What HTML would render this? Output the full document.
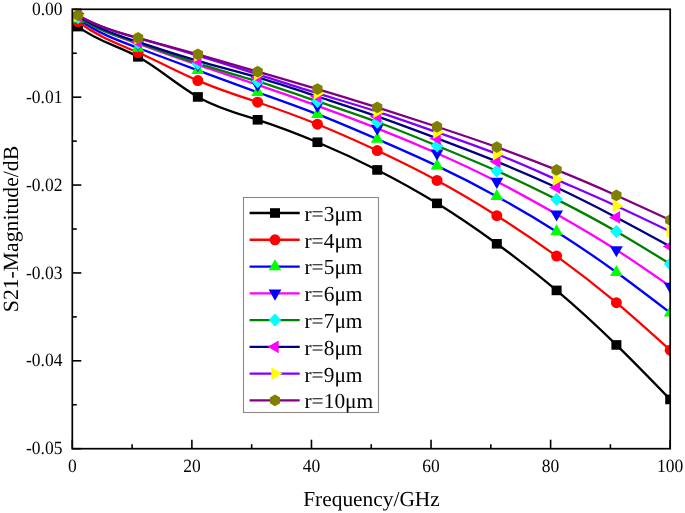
<!DOCTYPE html>
<html><head><meta charset="utf-8"><style>
html,body{margin:0;padding:0;background:#fff;width:685px;height:513px;overflow:hidden}
svg{display:block;font-family:"Liberation Serif",serif;text-rendering:geometricPrecision;will-change:transform}
</style></head><body>
<svg width="685" height="513" viewBox="0 0 685 513" font-family="Liberation Serif, serif" fill="#000">
<defs><clipPath id="c"><rect x="72.3" y="9.3" width="597.90" height="439.40"/></clipPath></defs>
<rect width="685" height="513" fill="#fff"/>
<g clip-path="url(#c)">
<path d="M77.98,26.59C98.01,41.71 118.04,45.84 138.07,56.84C158.00,67.78 177.93,85.53 197.86,96.94C217.79,108.35 237.72,113.44 257.65,119.80C277.58,126.17 297.51,133.81 317.44,142.23C337.37,150.65 357.30,159.84 377.23,169.93C397.16,180.03 417.09,191.03 437.02,203.35C456.95,215.67 476.88,229.31 496.81,243.80C516.74,258.29 536.67,273.61 556.60,290.41C576.53,307.20 596.46,325.46 616.39,344.93C634.33,362.45 652.26,380.95 670.20,399.45" fill="none" stroke="#000000" stroke-width="2.3" stroke-linejoin="round"/>
<rect x="72.98" y="21.79" width="10" height="9.6" fill="#000000"/>
<rect x="133.07" y="52.04" width="10" height="9.6" fill="#000000"/>
<rect x="192.86" y="92.14" width="10" height="9.6" fill="#000000"/>
<rect x="252.65" y="115.00" width="10" height="9.6" fill="#000000"/>
<rect x="312.44" y="137.43" width="10" height="9.6" fill="#000000"/>
<rect x="372.23" y="165.13" width="10" height="9.6" fill="#000000"/>
<rect x="432.02" y="198.55" width="10" height="9.6" fill="#000000"/>
<rect x="491.81" y="239.00" width="10" height="9.6" fill="#000000"/>
<rect x="551.60" y="285.61" width="10" height="9.6" fill="#000000"/>
<rect x="611.39" y="340.13" width="10" height="9.6" fill="#000000"/>
<rect x="665.20" y="394.65" width="10" height="9.6" fill="#000000"/>
<path d="M77.98,21.49C98.01,37.01 118.04,43.75 138.07,52.53C158.00,61.27 177.93,72.03 197.86,80.58C217.79,89.13 237.72,95.46 257.65,102.22C277.58,108.97 297.51,116.14 317.44,124.20C337.37,132.27 357.30,141.22 377.23,150.58C397.16,159.94 417.09,169.71 437.02,180.48C456.95,191.26 476.88,203.05 496.81,215.66C516.74,228.27 536.67,241.69 556.60,256.11C576.53,270.53 596.46,285.95 616.39,302.72C634.33,317.82 652.26,334.01 670.20,350.21" fill="none" stroke="#FF0000" stroke-width="2.3" stroke-linejoin="round"/>
<circle cx="77.98" cy="21.49" r="5.5" fill="#FF0000"/>
<circle cx="138.07" cy="52.53" r="5.5" fill="#FF0000"/>
<circle cx="197.86" cy="80.58" r="5.5" fill="#FF0000"/>
<circle cx="257.65" cy="102.22" r="5.5" fill="#FF0000"/>
<circle cx="317.44" cy="124.20" r="5.5" fill="#FF0000"/>
<circle cx="377.23" cy="150.58" r="5.5" fill="#FF0000"/>
<circle cx="437.02" cy="180.48" r="5.5" fill="#FF0000"/>
<circle cx="496.81" cy="215.66" r="5.5" fill="#FF0000"/>
<circle cx="556.60" cy="256.11" r="5.5" fill="#FF0000"/>
<circle cx="616.39" cy="302.72" r="5.5" fill="#FF0000"/>
<circle cx="670.20" cy="350.21" r="5.5" fill="#FF0000"/>
<path d="M77.98,18.76C98.01,33.36 118.04,40.55 138.07,47.96C158.00,55.33 177.93,62.93 197.86,70.38C217.79,77.83 237.72,85.14 257.65,92.28C277.58,99.42 297.51,106.40 317.44,114.18C337.37,121.95 357.30,130.52 377.23,139.15C397.16,147.78 417.09,156.46 437.02,165.88C456.95,175.31 476.88,185.47 496.81,196.40C516.74,207.33 536.67,219.04 556.60,231.66C576.53,244.29 596.46,257.83 616.39,272.29C634.33,285.31 652.26,299.07 670.20,312.83" fill="none" stroke="#0000FF" stroke-width="2.3" stroke-linejoin="round"/>
<polygon points="77.98,11.36 84.38,22.46 71.58,22.46" fill="#00FF00"/>
<polygon points="138.07,40.56 144.47,51.66 131.67,51.66" fill="#00FF00"/>
<polygon points="197.86,62.98 204.26,74.08 191.46,74.08" fill="#00FF00"/>
<polygon points="257.65,84.88 264.05,95.98 251.25,95.98" fill="#00FF00"/>
<polygon points="317.44,106.78 323.84,117.88 311.04,117.88" fill="#00FF00"/>
<polygon points="377.23,131.75 383.63,142.85 370.83,142.85" fill="#00FF00"/>
<polygon points="437.02,158.48 443.42,169.58 430.62,169.58" fill="#00FF00"/>
<polygon points="496.81,189.00 503.21,200.10 490.41,200.10" fill="#00FF00"/>
<polygon points="556.60,224.26 563.00,235.36 550.20,235.36" fill="#00FF00"/>
<polygon points="616.39,264.89 622.79,275.99 609.99,275.99" fill="#00FF00"/>
<polygon points="670.20,305.43 676.60,316.53 663.80,316.53" fill="#00FF00"/>
<path d="M77.98,16.83C98.01,30.28 118.04,36.80 138.07,43.74C158.00,50.64 177.93,57.96 197.86,64.84C217.79,71.72 237.72,78.17 257.65,84.89C277.58,91.61 297.51,98.61 317.44,105.82C337.37,113.03 357.30,120.46 377.23,128.33C397.16,136.21 417.09,144.52 437.02,153.31C456.95,162.10 476.88,171.36 496.81,181.54C516.74,191.72 536.67,202.82 556.60,214.16C576.53,225.50 596.46,237.08 616.39,249.87C634.33,261.38 652.26,273.87 670.20,286.36" fill="none" stroke="#FF00FF" stroke-width="2.3" stroke-linejoin="round"/>
<polygon points="77.98,24.23 84.38,13.13 71.58,13.13" fill="#0000FF"/>
<polygon points="138.07,51.14 144.47,40.04 131.67,40.04" fill="#0000FF"/>
<polygon points="197.86,72.24 204.26,61.14 191.46,61.14" fill="#0000FF"/>
<polygon points="257.65,92.29 264.05,81.19 251.25,81.19" fill="#0000FF"/>
<polygon points="317.44,113.22 323.84,102.12 311.04,102.12" fill="#0000FF"/>
<polygon points="377.23,135.73 383.63,124.63 370.83,124.63" fill="#0000FF"/>
<polygon points="437.02,160.71 443.42,149.61 430.62,149.61" fill="#0000FF"/>
<polygon points="496.81,188.94 503.21,177.84 490.41,177.84" fill="#0000FF"/>
<polygon points="556.60,221.56 563.00,210.46 550.20,210.46" fill="#0000FF"/>
<polygon points="616.39,257.27 622.79,246.17 609.99,246.17" fill="#0000FF"/>
<polygon points="670.20,293.76 676.60,282.66 663.80,282.66" fill="#0000FF"/>
<path d="M77.98,17.44C98.01,30.24 118.04,36.31 138.07,43.03C158.00,49.72 177.93,57.05 197.86,63.43C217.79,69.82 237.72,75.27 257.65,81.46C277.58,87.66 297.51,94.59 317.44,101.34C337.37,108.08 357.30,114.63 377.23,122.00C397.16,129.38 417.09,137.58 437.02,145.75C456.95,153.91 476.88,162.04 496.81,170.90C516.74,179.75 536.67,189.33 556.60,199.39C576.53,209.45 596.46,220.00 616.39,231.49C634.33,241.83 652.26,252.93 670.20,264.03" fill="none" stroke="#008000" stroke-width="2.3" stroke-linejoin="round"/>
<polygon points="77.98,10.74 84.28,17.44 77.98,24.14 71.68,17.44" fill="#00FFFF"/>
<polygon points="138.07,36.33 144.37,43.03 138.07,49.73 131.77,43.03" fill="#00FFFF"/>
<polygon points="197.86,56.73 204.16,63.43 197.86,70.13 191.56,63.43" fill="#00FFFF"/>
<polygon points="257.65,74.76 263.95,81.46 257.65,88.16 251.35,81.46" fill="#00FFFF"/>
<polygon points="317.44,94.64 323.74,101.34 317.44,108.04 311.14,101.34" fill="#00FFFF"/>
<polygon points="377.23,115.30 383.53,122.00 377.23,128.70 370.93,122.00" fill="#00FFFF"/>
<polygon points="437.02,139.05 443.32,145.75 437.02,152.45 430.72,145.75" fill="#00FFFF"/>
<polygon points="496.81,164.20 503.11,170.90 496.81,177.60 490.51,170.90" fill="#00FFFF"/>
<polygon points="556.60,192.69 562.90,199.39 556.60,206.09 550.30,199.39" fill="#00FFFF"/>
<polygon points="616.39,224.79 622.69,231.49 616.39,238.19 610.09,231.49" fill="#00FFFF"/>
<polygon points="670.20,257.33 676.50,264.03 670.20,270.73 663.90,264.03" fill="#00FFFF"/>
<path d="M77.98,15.68C98.01,28.83 118.04,35.39 138.07,41.98C158.00,48.53 177.93,55.12 197.86,60.88C217.79,66.65 237.72,71.60 257.65,77.42C277.58,83.24 297.51,89.94 317.44,96.50C337.37,103.07 357.30,109.50 377.23,116.46C397.16,123.43 417.09,130.92 437.02,138.45C456.95,145.97 476.88,153.52 496.81,161.58C516.74,169.63 536.67,178.20 556.60,187.52C576.53,196.84 596.46,206.92 616.39,217.42C634.33,226.87 652.26,236.65 670.20,246.44" fill="none" stroke="#000080" stroke-width="2.3" stroke-linejoin="round"/>
<polygon points="70.58,15.68 81.68,9.28 81.68,22.08" fill="#FF00FF"/>
<polygon points="130.67,41.98 141.77,35.58 141.77,48.38" fill="#FF00FF"/>
<polygon points="190.46,60.88 201.56,54.48 201.56,67.28" fill="#FF00FF"/>
<polygon points="250.25,77.42 261.35,71.02 261.35,83.82" fill="#FF00FF"/>
<polygon points="310.04,96.50 321.14,90.10 321.14,102.90" fill="#FF00FF"/>
<polygon points="369.83,116.46 380.93,110.06 380.93,122.86" fill="#FF00FF"/>
<polygon points="429.62,138.45 440.72,132.05 440.72,144.85" fill="#FF00FF"/>
<polygon points="489.41,161.58 500.51,155.18 500.51,167.98" fill="#FF00FF"/>
<polygon points="549.20,187.52 560.30,181.12 560.30,193.92" fill="#FF00FF"/>
<polygon points="608.99,217.42 620.09,211.02 620.09,223.82" fill="#FF00FF"/>
<polygon points="662.80,246.44 673.90,240.04 673.90,252.84" fill="#FF00FF"/>
<path d="M77.98,15.51C98.01,26.85 118.04,32.50 138.07,38.20C158.00,43.87 177.93,49.59 197.86,55.61C217.79,61.63 237.72,67.94 257.65,74.34C277.58,80.74 297.51,87.23 317.44,93.33C337.37,99.44 357.30,105.17 377.23,111.63C397.16,118.09 417.09,125.28 437.02,132.29C456.95,139.30 476.88,146.12 496.81,154.01C516.74,161.90 536.67,170.86 556.60,179.60C576.53,188.35 596.46,196.88 616.39,205.99C634.33,214.18 652.26,222.83 670.20,231.49" fill="none" stroke="#8000FF" stroke-width="2.3" stroke-linejoin="round"/>
<polygon points="85.38,15.51 74.28,9.11 74.28,21.91" fill="#FFFF00"/>
<polygon points="145.47,38.20 134.37,31.80 134.37,44.60" fill="#FFFF00"/>
<polygon points="205.26,55.61 194.16,49.21 194.16,62.01" fill="#FFFF00"/>
<polygon points="265.05,74.34 253.95,67.94 253.95,80.74" fill="#FFFF00"/>
<polygon points="324.84,93.33 313.74,86.93 313.74,99.73" fill="#FFFF00"/>
<polygon points="384.63,111.63 373.53,105.23 373.53,118.03" fill="#FFFF00"/>
<polygon points="444.42,132.29 433.32,125.89 433.32,138.69" fill="#FFFF00"/>
<polygon points="504.21,154.01 493.11,147.61 493.11,160.41" fill="#FFFF00"/>
<polygon points="564.00,179.60 552.90,173.20 552.90,186.00" fill="#FFFF00"/>
<polygon points="623.79,205.99 612.69,199.59 612.69,212.39" fill="#FFFF00"/>
<polygon points="677.60,231.49 666.50,225.09 666.50,237.89" fill="#FFFF00"/>
<path d="M77.98,15.16C98.01,26.54 118.04,32.39 138.07,37.93C158.00,43.45 177.93,48.68 197.86,54.29C217.79,59.90 237.72,65.89 257.65,71.70C277.58,77.51 297.51,83.13 317.44,89.03C337.37,94.92 357.30,101.09 377.23,107.40C397.16,113.72 417.09,120.18 437.02,126.75C456.95,133.33 476.88,140.02 496.81,147.15C516.74,154.29 536.67,161.87 556.60,169.93C576.53,177.99 596.46,186.53 616.39,195.43C634.33,203.44 652.26,211.75 670.20,220.06" fill="none" stroke="#800080" stroke-width="2.3" stroke-linejoin="round"/>
<polygon points="77.98,9.26 83.09,12.21 83.09,18.11 77.98,21.06 72.87,18.11 72.87,12.21" fill="#808000"/>
<polygon points="138.07,32.03 143.18,34.98 143.18,40.88 138.07,43.83 132.96,40.88 132.96,34.98" fill="#808000"/>
<polygon points="197.86,48.39 202.97,51.34 202.97,57.24 197.86,60.19 192.75,57.24 192.75,51.34" fill="#808000"/>
<polygon points="257.65,65.80 262.76,68.75 262.76,74.65 257.65,77.60 252.54,74.65 252.54,68.75" fill="#808000"/>
<polygon points="317.44,83.13 322.55,86.08 322.55,91.98 317.44,94.93 312.33,91.98 312.33,86.08" fill="#808000"/>
<polygon points="377.23,101.50 382.34,104.45 382.34,110.35 377.23,113.30 372.12,110.35 372.12,104.45" fill="#808000"/>
<polygon points="437.02,120.85 442.13,123.80 442.13,129.70 437.02,132.65 431.91,129.70 431.91,123.80" fill="#808000"/>
<polygon points="496.81,141.25 501.92,144.20 501.92,150.10 496.81,153.05 491.70,150.10 491.70,144.20" fill="#808000"/>
<polygon points="556.60,164.03 561.71,166.98 561.71,172.88 556.60,175.83 551.49,172.88 551.49,166.98" fill="#808000"/>
<polygon points="616.39,189.53 621.50,192.48 621.50,198.38 616.39,201.33 611.28,198.38 611.28,192.48" fill="#808000"/>
<polygon points="670.20,214.16 675.31,217.11 675.31,223.01 670.20,225.96 665.09,223.01 665.09,217.11" fill="#808000"/>
</g>
<rect x="72.3" y="9.3" width="597.90" height="439.40" fill="none" stroke="#000" stroke-width="1.7"/>
<line x1="72.30" y1="448.7" x2="72.30" y2="439.7" stroke="#000" stroke-width="1.6"/>
<line x1="132.09" y1="448.7" x2="132.09" y2="444.2" stroke="#000" stroke-width="1.6"/>
<line x1="191.88" y1="448.7" x2="191.88" y2="439.7" stroke="#000" stroke-width="1.6"/>
<line x1="251.67" y1="448.7" x2="251.67" y2="444.2" stroke="#000" stroke-width="1.6"/>
<line x1="311.46" y1="448.7" x2="311.46" y2="439.7" stroke="#000" stroke-width="1.6"/>
<line x1="371.25" y1="448.7" x2="371.25" y2="444.2" stroke="#000" stroke-width="1.6"/>
<line x1="431.04" y1="448.7" x2="431.04" y2="439.7" stroke="#000" stroke-width="1.6"/>
<line x1="490.83" y1="448.7" x2="490.83" y2="444.2" stroke="#000" stroke-width="1.6"/>
<line x1="550.62" y1="448.7" x2="550.62" y2="439.7" stroke="#000" stroke-width="1.6"/>
<line x1="610.41" y1="448.7" x2="610.41" y2="444.2" stroke="#000" stroke-width="1.6"/>
<line x1="670.20" y1="448.7" x2="670.20" y2="439.7" stroke="#000" stroke-width="1.6"/>
<line x1="72.3" y1="9.30" x2="81.3" y2="9.30" stroke="#000" stroke-width="1.6"/>
<line x1="72.3" y1="53.24" x2="76.8" y2="53.24" stroke="#000" stroke-width="1.6"/>
<line x1="72.3" y1="97.18" x2="81.3" y2="97.18" stroke="#000" stroke-width="1.6"/>
<line x1="72.3" y1="141.12" x2="76.8" y2="141.12" stroke="#000" stroke-width="1.6"/>
<line x1="72.3" y1="185.06" x2="81.3" y2="185.06" stroke="#000" stroke-width="1.6"/>
<line x1="72.3" y1="229.00" x2="76.8" y2="229.00" stroke="#000" stroke-width="1.6"/>
<line x1="72.3" y1="272.94" x2="81.3" y2="272.94" stroke="#000" stroke-width="1.6"/>
<line x1="72.3" y1="316.88" x2="76.8" y2="316.88" stroke="#000" stroke-width="1.6"/>
<line x1="72.3" y1="360.82" x2="81.3" y2="360.82" stroke="#000" stroke-width="1.6"/>
<line x1="72.3" y1="404.76" x2="76.8" y2="404.76" stroke="#000" stroke-width="1.6"/>
<line x1="72.3" y1="448.70" x2="81.3" y2="448.70" stroke="#000" stroke-width="1.6"/>
<text transform="translate(72.30,472.2) scale(1,1.07)" text-anchor="middle" font-size="17.5">0</text>
<text transform="translate(191.88,472.2) scale(1,1.07)" text-anchor="middle" font-size="17.5">20</text>
<text transform="translate(311.46,472.2) scale(1,1.07)" text-anchor="middle" font-size="17.5">40</text>
<text transform="translate(431.04,472.2) scale(1,1.07)" text-anchor="middle" font-size="17.5">60</text>
<text transform="translate(550.62,472.2) scale(1,1.07)" text-anchor="middle" font-size="17.5">80</text>
<text transform="translate(670.20,472.2) scale(1,1.07)" text-anchor="middle" font-size="17.5">100</text>
<text transform="translate(62.5,14.90) scale(1,1.07)" text-anchor="end" font-size="17.5">0.00</text>
<text transform="translate(62.5,102.78) scale(1,1.07)" text-anchor="end" font-size="17.5">-0.01</text>
<text transform="translate(62.5,190.66) scale(1,1.07)" text-anchor="end" font-size="17.5">-0.02</text>
<text transform="translate(62.5,278.54) scale(1,1.07)" text-anchor="end" font-size="17.5">-0.03</text>
<text transform="translate(62.5,366.42) scale(1,1.07)" text-anchor="end" font-size="17.5">-0.04</text>
<text transform="translate(62.5,454.30) scale(1,1.07)" text-anchor="end" font-size="17.5">-0.05</text>
<text x="371.5" y="505.6" text-anchor="middle" font-size="21.4">Frequency/GHz</text>
<text transform="translate(18.4,229) rotate(-90)" x="0" y="0" text-anchor="middle" font-size="21.7">S21-Magnitude/dB</text>
<rect x="243.5" y="197.5" width="135" height="215" fill="#fff" stroke="#8a8a8a" stroke-width="1.1"/>
<line x1="249.6" y1="213.00" x2="299.7" y2="213.00" stroke="#000000" stroke-width="2.3"/>
<rect x="270.00" y="208.20" width="10" height="9.6" fill="#000000"/>
<text x="304.5" y="220.90" font-size="21.4">r=3μm</text>
<line x1="249.6" y1="239.77" x2="299.7" y2="239.77" stroke="#FF0000" stroke-width="2.3"/>
<circle cx="275.00" cy="239.77" r="5.5" fill="#FF0000"/>
<text x="304.5" y="247.67" font-size="21.4">r=4μm</text>
<line x1="249.6" y1="266.54" x2="299.7" y2="266.54" stroke="#0000FF" stroke-width="2.3"/>
<polygon points="275.00,259.14 281.40,270.24 268.60,270.24" fill="#00FF00"/>
<text x="304.5" y="274.44" font-size="21.4">r=5μm</text>
<line x1="249.6" y1="293.31" x2="299.7" y2="293.31" stroke="#FF00FF" stroke-width="2.3"/>
<polygon points="275.00,300.71 281.40,289.61 268.60,289.61" fill="#0000FF"/>
<text x="304.5" y="301.21" font-size="21.4">r=6μm</text>
<line x1="249.6" y1="320.08" x2="299.7" y2="320.08" stroke="#008000" stroke-width="2.3"/>
<polygon points="275.00,313.38 281.30,320.08 275.00,326.78 268.70,320.08" fill="#00FFFF"/>
<text x="304.5" y="327.98" font-size="21.4">r=7μm</text>
<line x1="249.6" y1="346.85" x2="299.7" y2="346.85" stroke="#000080" stroke-width="2.3"/>
<polygon points="267.60,346.85 278.70,340.45 278.70,353.25" fill="#FF00FF"/>
<text x="304.5" y="354.75" font-size="21.4">r=8μm</text>
<line x1="249.6" y1="373.62" x2="299.7" y2="373.62" stroke="#8000FF" stroke-width="2.3"/>
<polygon points="282.40,373.62 271.30,367.22 271.30,380.02" fill="#FFFF00"/>
<text x="304.5" y="381.52" font-size="21.4">r=9μm</text>
<line x1="249.6" y1="400.39" x2="299.7" y2="400.39" stroke="#800080" stroke-width="2.3"/>
<polygon points="275.00,394.49 280.11,397.44 280.11,403.34 275.00,406.29 269.89,403.34 269.89,397.44" fill="#808000"/>
<text x="304.5" y="408.29" font-size="21.4">r=10μm</text>
</svg>
</body></html>
